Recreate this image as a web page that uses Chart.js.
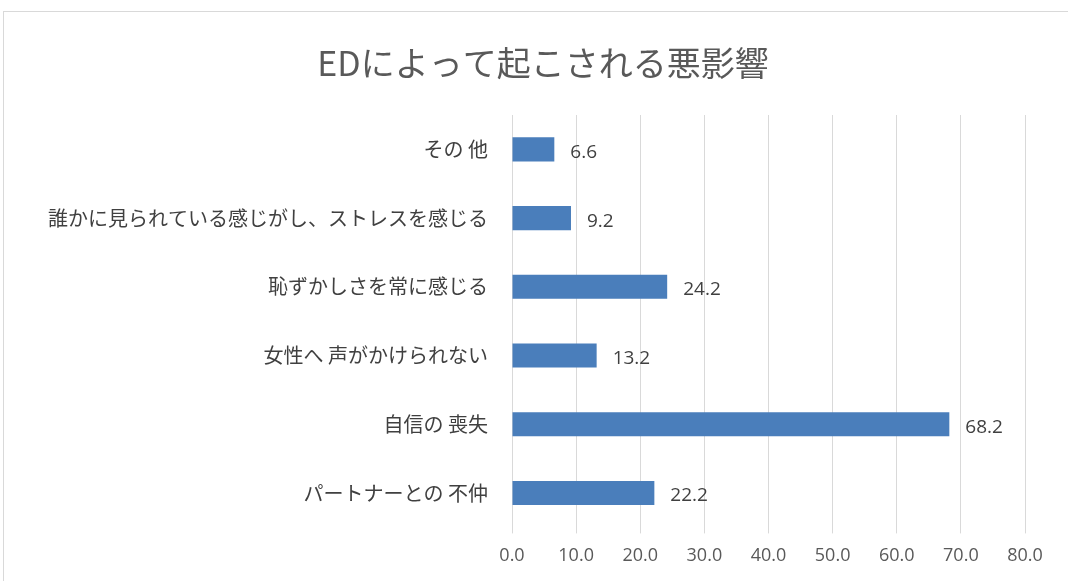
<!DOCTYPE html>
<html>
<head>
<meta charset="utf-8">
<script src="https://cdn.jsdelivr.net/npm/chart.js@4"></script>
<style>
  html, body { margin: 0; padding: 0; background: #fff; }
  #frame { position: absolute; left: 3px; top: 11px; width: 1080px; height: 590px; border: 1px solid #d9d9d9; box-sizing: border-box; }
  #wrap { position: absolute; left: 0; top: 0; width: 1068px; height: 581px; }
</style>
</head>
<body>
<div id="frame"></div>
<div id="wrap"><canvas id="myChart"></canvas></div>
<script>
  // Chart values
  var titleText = 'EDによって起こされる悪影響';
  var categories = ['その 他', '誰かに見られている感じがし、ストレスを感じる', '恥ずかしさを常に感じる',
                    '女性へ 声がかけられない', '自信の 喪失', 'パートナーとの 不仲'];
  var values = [6.6, 9.2, 24.2, 13.2, 68.2, 22.2];
  var xTicks = [0, 10, 20, 30, 40, 50, 60, 70, 80];

  // title, drawn a bit right of the canvas centre like the original
  var chartTitle = {
    id: 'chartTitle',
    afterDraw: function(chart) {
      var ctx = chart.ctx;
      ctx.save();
      ctx.font = '34px "Noto Sans CJK JP", sans-serif';
      ctx.fillStyle = '#595959';
      ctx.textAlign = 'center';
      ctx.textBaseline = 'middle';
      ctx.fillText(titleText, 543, 63);
      ctx.restore();
    }
  };

  // draws the value next to each bar
  var valueLabels = {
    id: 'valueLabels',
    afterDatasetsDraw: function(chart) {
      var ctx = chart.ctx;
      var meta = chart.getDatasetMeta(0);
      ctx.save();
      ctx.font = '19px "Open Sans", "Noto Sans CJK JP", sans-serif';
      ctx.fillStyle = '#404040';
      ctx.textAlign = 'left';
      ctx.textBaseline = 'middle';
      meta.data.forEach(function(bar, i) {
        ctx.fillText(values[i].toFixed(1), bar.x + 16, bar.y + 3);
      });
      ctx.restore();
    }
  };

  var myChart = new Chart('myChart', {
    type: 'bar',
    data: {
      labels: categories,
      datasets: [{
        data: values,
        backgroundColor: '#4a7ebb',
        borderWidth: 0,
        categoryPercentage: 1,
        barPercentage: 0.35
      }]
    },
    options: {
      indexAxis: 'y',
      responsive: true,
      maintainAspectRatio: false,
      animation: false,
      layout: { padding: { left: 4, right: 43, top: 115, bottom: 2 } },
      plugins: {
        legend: { display: false },
        tooltip: { enabled: false },
        title: { display: false }
      },
      scales: {
        x: {
          min: 0,
          max: 80,
          afterBuildTicks: function(scale) {
            scale.ticks = xTicks.map(function(v) { return { value: v }; });
          },
          grid: { color: '#d9d9d9', tickLength: 6, drawTicks: true },
          border: { display: false },
          ticks: {
            color: '#595959',
            padding: 12,
            maxRotation: 0,
            font: { family: '"Open Sans", sans-serif', size: 18 },
            callback: function(v) { return Number(v).toFixed(1); }
          }
        },
        y: {
          afterFit: function(scale) { scale.width = 508; },
          grid: { display: false },
          border: { display: true, color: '#d9d9d9' },
          ticks: {
            color: '#404040',
            padding: 16,
            font: { family: '"Noto Sans CJK JP"', size: 20 }
          }
        }
      }
    },
    plugins: [valueLabels, chartTitle]
  });
</script>
</body>
</html>
